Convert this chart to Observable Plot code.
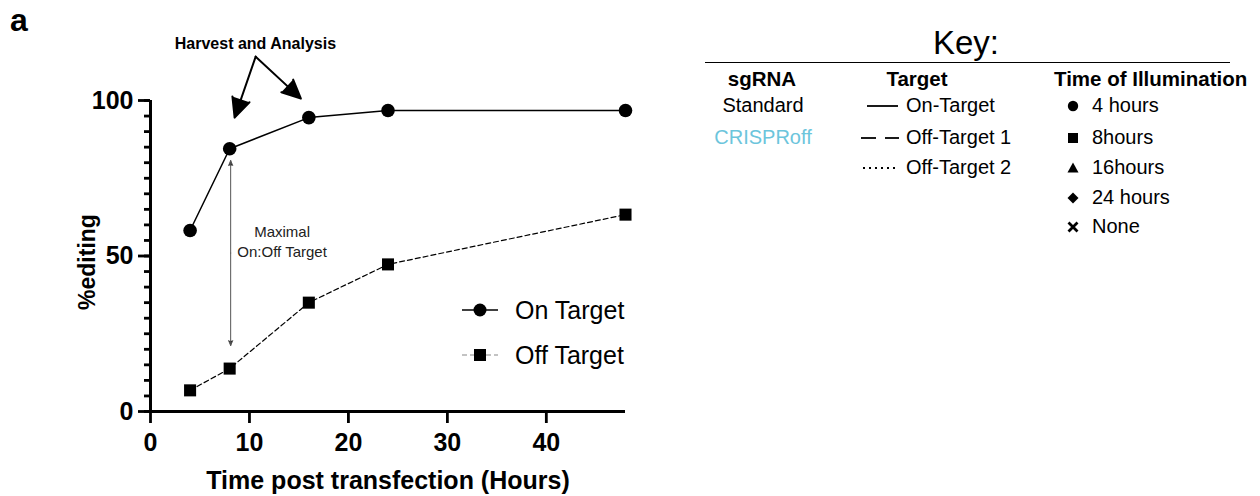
<!DOCTYPE html>
<html><head><meta charset="utf-8">
<script src="https://cdn.jsdelivr.net/npm/d3@7"></script>
<script src="https://cdn.jsdelivr.net/npm/@observablehq/plot@0.6"></script>
<style>
body{margin:0;background:#fff;}
#wrap{position:relative;width:1260px;height:496px;font-family:"Liberation Sans",Arial,sans-serif;color:#000;}
.abs{position:absolute;white-space:nowrap;line-height:1;}
svg.sym{position:absolute;overflow:visible;}
</style></head><body><div id="wrap"></div>
<script>
// ---- data ----
const hours = [4, 8, 16, 24, 48];
const onTarget = [58.2, 84.5, 94.5, 96.8, 96.8];
const offTarget = [6.8, 13.8, 35.0, 47.3, 63.3];
const seriesNames = ["On Target", "Off Target"];
const xTicks = [0, 10, 20, 30, 40];
const yTicks = [0, 50, 100];
const yMinorTicks = [0,5,10,15,20,25,30,35,40,45,50,55,60,65,70,75,80,85,90,95,100];
const xLabel = "Time post transfection (Hours)";
const yLabel = "%editing";
const harvestText = "Harvest and Analysis";
const harvestTextPos = [10.6, 118.3];
const harvestFrom = [10.63, 114.1];
const harvestTo = [[8.5, 94.5], [15.2, 100.6]];
const maximalText = "Maximal\nOn:Off Target";
const maximalX = 8.1, maximalY = [21.2, 80.7];
const maximalTextPos = [13.3, 55];
const keySgRNA = ["Standard", "CRISPRoff"];
const keySgColors = ["#000", "#6cc5dc"];
const keyTargets = ["On-Target", "Off-Target 1", "Off-Target 2"];
const keyTimes = ["4 hours", "8hours", "16hours", "24 hours", "None"];
const keyTimeSymbols = ["circle", "square", "triangle", "diamond", "times"];

const onData = hours.map((h, i) => ({x: h, y: onTarget[i]}));
const offData = hours.map((h, i) => ({x: h, y: offTarget[i]}));

const chart = Plot.plot({
  width: 1260, height: 496,
  marginLeft: 150, marginRight: 635, marginTop: 100, marginBottom: 85,
  style: {fontFamily: '"Liberation Sans", Arial, sans-serif', color: "#000", background: "transparent"},
  x: {domain: [0, 48], axis: null},
  y: {domain: [0, 100], axis: null},
  marks: [
    Plot.axisY({ticks: yMinorTicks, tickSize: 6, strokeWidth: 2.8, text: null, label: null}),
    Plot.axisY({ticks: yTicks, tickSize: 12, strokeWidth: 2.8, tickPadding: 5, fontSize: 25, fontWeight: "bold", label: null}),
    Plot.axisX({ticks: xTicks, tickSize: 12, strokeWidth: 2.8, tickPadding: 10, fontSize: 25, fontWeight: "bold", label: null}),
    Plot.ruleX([0], {y1: 0, y2: 100, strokeWidth: 3}),
    Plot.ruleY([0], {x1: 0, x2: 48, strokeWidth: 3}),
    Plot.text([yLabel], {frameAnchor: "left", rotate: -90, dx: -63, dy: 6, textAnchor: "middle", lineAnchor: "middle", fontSize: 23, fontWeight: "bold"}),
    Plot.text([xLabel], {frameAnchor: "bottom", dy: 69, lineAnchor: "middle", fontSize: 25, fontWeight: "bold"}),
    Plot.line(offData, {x: "x", y: "y", stroke: "#000", strokeWidth: 1.2, strokeDasharray: "5,3"}),
    Plot.line(onData, {x: "x", y: "y", stroke: "#000", strokeWidth: 1.5}),
    Plot.dot(onData, {x: "x", y: "y", r: 6.8, fill: "#000", symbol: "circle"}),
    Plot.dot(offData, {x: "x", y: "y", r: 6.8, fill: "#000", symbol: "square"}),
    Plot.text([harvestText], {x: () => harvestTextPos[0], y: () => harvestTextPos[1], fontSize: 16, fontWeight: "bold"}),
    Plot.arrow(harvestTo, {x1: () => harvestFrom[0], y1: () => harvestFrom[1], x2: d => d[0], y2: d => d[1], strokeWidth: 2, headLength: 16, headAngle: 50, stroke: "#000", fill: "#000", strokeLinejoin: "miter"}),
    Plot.arrow(maximalY, {x1: () => maximalX, y1: () => (maximalY[0] + maximalY[1]) / 2, x2: () => maximalX, y2: d => d, stroke: "#555", fill: "#222", strokeWidth: 1, headLength: 8, headAngle: 45}),
    Plot.text([maximalText], {x: () => maximalTextPos[0], y: () => maximalTextPos[1], fontSize: 15, lineHeight: 1.35, fill: "#222"})
  ]
});
const wrap = document.getElementById("wrap");
wrap.appendChild(chart);

function label(text, x, y, opts = {}) {
  const d = document.createElement("div");
  d.className = "abs";
  d.textContent = text;
  d.style.left = x + "px";
  d.style.top = y + "px";
  const anchor = opts.anchor || "start";
  const tx = anchor === "middle" ? "-50%" : anchor === "end" ? "-100%" : "0";
  d.style.transform = `translate(${tx}, -50%)`;
  d.style.fontSize = (opts.size || 20) + "px";
  if (opts.weight) d.style.fontWeight = opts.weight;
  if (opts.color) d.style.color = opts.color;
  wrap.appendChild(d);
  return d;
}
function svgAt(x, y, w, h, inner) {
  const s = document.createElementNS("http://www.w3.org/2000/svg", "svg");
  s.setAttribute("class", "sym");
  s.setAttribute("width", w); s.setAttribute("height", h);
  s.style.left = x + "px"; s.style.top = y + "px";
  s.innerHTML = inner;
  wrap.appendChild(s);
}

// panel letter
label("a", 10, 20, {size: 32, weight: "bold"});

// in-plot legend
const legY = [310, 355];
svgAt(460, legY[0] - 8, 40, 16, `<line x1="2" y1="8" x2="38" y2="8" stroke="#000" stroke-width="1.5"/><circle cx="20" cy="8" r="6.5" fill="#000"/>`);
svgAt(460, legY[1] - 8, 40, 16, `<line x1="2" y1="8" x2="38" y2="8" stroke="#888" stroke-width="1.2" stroke-dasharray="5,3"/><rect x="14" y="2" width="12" height="12" fill="#000"/>`);
seriesNames.forEach((n, i) => label(n, 515, legY[i], {size: 25}));

// key
label("Key:", 966, 42, {size: 33, anchor: "middle"});
const hr = document.createElement("div");
hr.style.cssText = "position:absolute;left:705px;top:62px;width:525px;height:0;border-top:1.6px solid #000;";
wrap.appendChild(hr);
label("sgRNA", 762, 79, {size: 20.5, weight: "bold", anchor: "middle"});
label("Target", 917, 79, {size: 20.5, weight: "bold", anchor: "middle"});
label("Time of Illumination", 1054, 79, {size: 20.5, weight: "bold"});
const rowY = [105, 137, 167, 197, 226];
keySgRNA.forEach((s, i) => label(s, 763, rowY[i], {size: 20, anchor: "middle", color: keySgColors[i]}));
const targetSyms = [
  `<line x1="867" y1="0" x2="898" y2="0" stroke="#000" stroke-width="1.8"/>`,
  `<line x1="861" y1="0" x2="876" y2="0" stroke="#000" stroke-width="1.8"/><line x1="885" y1="0" x2="899" y2="0" stroke="#000" stroke-width="1.8"/>`,
  `<line x1="863" y1="0" x2="899" y2="0" stroke="#000" stroke-width="2" stroke-dasharray="2,4"/>`
];
keyTargets.forEach((t, i) => {
  svgAt(0, rowY[i] + 1, 1, 1, targetSyms[i]);
  label(t, 906, rowY[i], {size: 20});
});
const symPaths = {
  circle: `<circle r="5.2" fill="#000"/>`,
  square: `<rect x="-5" y="-5" width="10" height="10" fill="#000"/>`,
  triangle: `<path d="M0,-5.5L5.5,4.5L-5.5,4.5Z" fill="#000"/>`,
  diamond: `<path d="M0,-5.5L5.5,0L0,5.5L-5.5,0Z" fill="#000"/>`,
  times: `<path d="M-4.5,-4.5L4.5,4.5M4.5,-4.5L-4.5,4.5" stroke="#000" stroke-width="2.8" fill="none"/>`
};
keyTimes.forEach((t, i) => {
  svgAt(1073, rowY[i] + 1, 1, 1, symPaths[keyTimeSymbols[i]]);
  label(t, 1092, rowY[i], {size: 20});
});
</script></body></html>
